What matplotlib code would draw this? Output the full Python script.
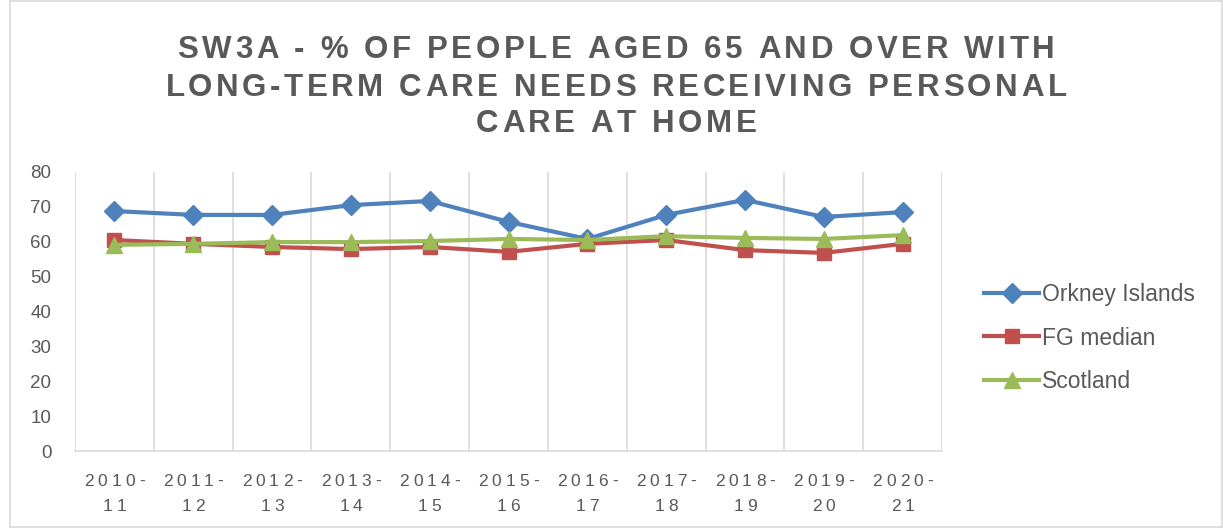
import matplotlib.pyplot as plt
import numpy as np
from matplotlib.patches import Rectangle
from matplotlib.font_manager import FontProperties

years = ['2010-\n11', '2011-\n12', '2012-\n13', '2013-\n14', '2014-\n15', '2015-\n16',
         '2016-\n17', '2017-\n18', '2018-\n19', '2019-\n20', '2020-\n21']
orkney = [68.8, 67.7, 67.7, 70.5, 71.7, 65.7, 60.8, 67.7, 72.0, 67.1, 68.5]
fg_median = [60.5, 59.4, 58.5, 57.9, 58.5, 57.1, 59.4, 60.5, 57.6, 56.8, 59.4]
scotland = [59.1, 59.4, 59.9, 59.9, 60.2, 60.8, 60.5, 61.6, 61.1, 60.8, 61.9]

title_lines = ['SW3A - % OF PEOPLE AGED 65 AND OVER WITH',
               'LONG-TERM CARE NEEDS RECEIVING PERSONAL',
               'CARE AT HOME']

plt.rcParams['font.family'] = ['Liberation Sans', 'DejaVu Sans']
txt = '#595959'
W, H = 1223, 528

fig = plt.figure(figsize=(W / 100, H / 100), dpi=100)
ax = fig.add_axes([75 / W, 1 - 451 / H, (942 - 75) / W, (451 - 172) / H])
renderer = fig.canvas.get_renderer()


def char_widths(s, size, weight):
    fp = FontProperties(family='Liberation Sans', size=size, weight=weight)
    out = []
    for ch in s:
        if ch == ' ':
            out.append(size * 100 / 72 * 0.28)
        else:
            w, h, d = renderer.get_text_width_height_descent(ch, fp, ismath=False)
            out.append(w)
    return out


def spaced_text(s, cx, cy, size, weight, spacing):
    # letter-spaced text, centred on (cx, cy) in pixels from top-left
    ws = char_widths(s, size, weight)
    total = sum(ws) + spacing * (len(s) - 1)
    xp = cx - total / 2
    for ch, w in zip(s, ws):
        if ch != ' ':
            fig.text(xp / W, 1 - cy / H, ch, ha='left', va='center_baseline',
                     fontsize=size, fontweight=weight, color=txt)
        xp += w + spacing


x = np.arange(len(years))
ax.plot(x, orkney, color='#4F81BD', lw=3, marker='D', ms=10, label='Orkney Islands', zorder=3)
ax.plot(x, fg_median, color='#C0504D', lw=3, marker='s', ms=10, label='FG median', zorder=3)
ax.plot(x, scotland, color='#9BBB59', lw=3, marker='^', ms=11, label='Scotland', zorder=4)

ax.set_xlim(-0.5, len(years) - 0.5)
ax.set_ylim(0, 80)
ax.set_yticks(range(0, 81, 10))
ax.set_xticks(x)
ax.set_xticklabels([])
ax.set_xticks(np.arange(-0.5, len(years), 1), minor=True)
ax.grid(True, which='minor', axis='x', color='#D9D9D9', lw=1.2)
ax.tick_params(axis='x', which='both', length=0)
ax.tick_params(axis='y', length=0, labelsize=13.5, labelcolor=txt, pad=17)
for s in ['top', 'right', 'left']:
    ax.spines[s].set_visible(False)
ax.spines['bottom'].set_color('#D9D9D9')
ax.spines['bottom'].set_linewidth(1.2)

# category labels, letter-spaced like the original
for i, lab in enumerate(years):
    px = ax.transData.transform((x[i], 0))[0]
    top, bottom = lab.split('\n')
    spaced_text(top, px, 480, 12.5, 'normal', 4)
    spaced_text(bottom, px, 505, 12.5, 'normal', 4)

# title
nat = sum(char_widths(title_lines[0], 22.5, 'bold'))
sp = (877 - nat) / (len(title_lines[0]) - 1)
for k, line in enumerate(title_lines):
    spaced_text(line, 616, 47 + 37 * k, 22.5, 'bold', sp)

ax.legend(loc='center left', bbox_to_anchor=(1.025, 0.405), frameon=False, fontsize=16.5,
          labelcolor=txt, handlelength=2.4, labelspacing=0.9, handletextpad=0.1)

fig.patches.append(Rectangle((10 / W, 0.001), 1 - 10 / W - 0.001, 0.997, transform=fig.transFigure,
                             fill=False, edgecolor='#D9D9D9', lw=1.2))

fig.savefig('out.png', dpi=100)
